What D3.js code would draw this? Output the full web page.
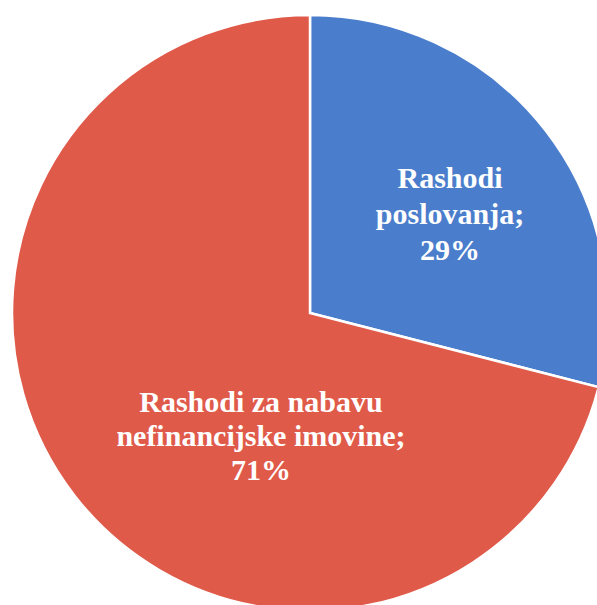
<!DOCTYPE html>
<html>
<head>
<meta charset="utf-8">
<script src="https://cdn.jsdelivr.net/npm/d3@7"></script>
<style>
  html, body { margin: 0; padding: 0; background: #fff; }
  svg { display: block; }
</style>
</head>
<body>
<div id="chart"></div>
<script>
const categories = ["Rashodi poslovanja", "Rashodi za nabavu nefinancijske imovine"];
const values = [29, 71];
const labelLines = [
    ["Rashodi", "poslovanja;", "29%"],
    ["Rashodi za nabavu", "nefinancijske imovine;", "71%"]
];

const width = 597, height = 605;
const cx = 310, cy = 313, radius = 298;
const colors = ["#4a7dcb", "#e05a4a"];
// label placement (angle in degrees from 12 o'clock, distance from centre)
const labelPolar = [{ a: 54.5, r: 172 }, { a: 201.9, r: 131.5 }];
const lineGap = [36, 34];

const svg = d3.select("#chart")
    .append("svg")
    .attr("width", width)
    .attr("height", height);

const g = svg.append("g").attr("transform", `translate(${cx},${cy})`);

const pie = d3.pie().sort(null).value((d) => d);
const arc = d3.arc().innerRadius(0).outerRadius(radius);
const arcs = pie(values);

g.selectAll("path.slice")
    .data(arcs)
    .enter()
    .append("path")
    .attr("class", "slice")
    .attr("d", arc)
    .attr("fill", (d, i) => colors[i])
    .attr("stroke", "#fff")
    .attr("stroke-width", 2.5)
    .attr("stroke-linejoin", "miter");

arcs.forEach((d, i) => {
    const p = labelPolar[i];
    const lineH = lineGap[i];
    const rad = (p.a * Math.PI) / 180;
    const x = Math.sin(rad) * p.r;
    const y = -Math.cos(rad) * p.r;
    const lines = labelLines[i];
    const t = g.append("text")
        .attr("x", x)
        .attr("y", y - ((lines.length - 1) * lineH) / 2)
        .attr("text-anchor", "middle")
        .style("font-family", '"Liberation Serif"')
        .style("font-weight", "bold")
        .style("font-size", "30px")
        .style("fill", "#fff")
        .attr("aria-label", categories[i]);
    lines.forEach((ln, j) => {
        t.append("tspan")
            .attr("x", x)
            .attr("dy", j === 0 ? "0.35em" : lineH)
            .text(ln);
    });
});
</script>
</body>
</html>
